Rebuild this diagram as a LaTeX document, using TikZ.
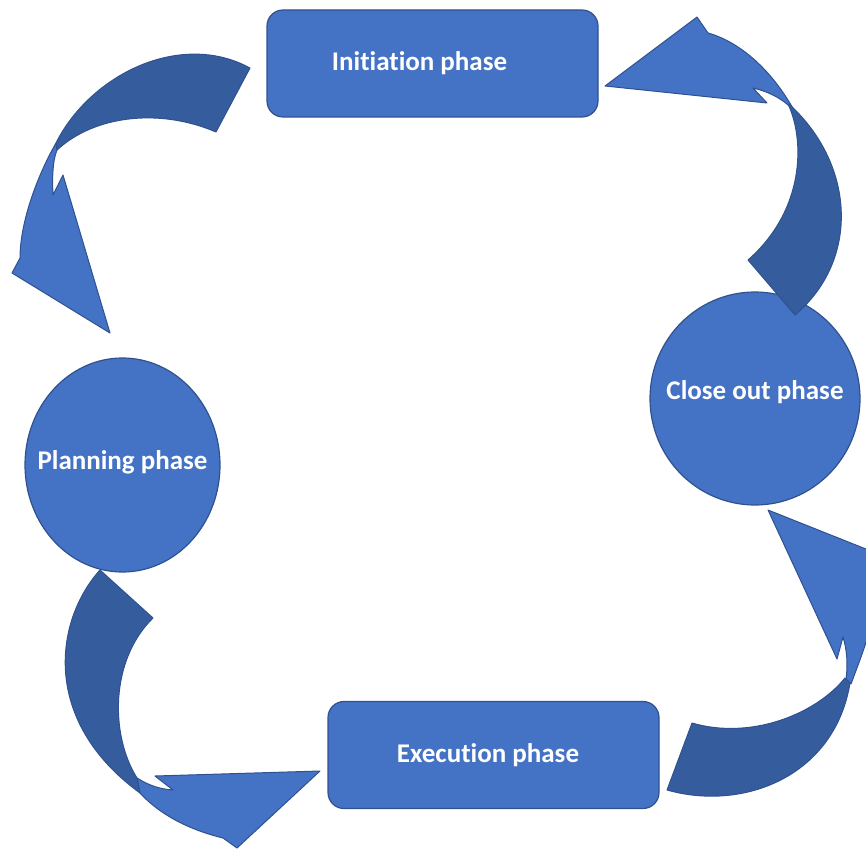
\documentclass[tikz,border=0pt]{standalone}
\usepackage{fontspec}
\setmainfont{Carlito}[Ligatures=NoCommon]
\usepackage{tikz}
\usetikzlibrary{shapes.geometric}

\definecolor{phaseblue}{HTML}{4472C4}
\definecolor{backblue}{HTML}{355D9E}
\definecolor{edgeblue}{HTML}{2F528F}

\begin{document}
\begin{tikzpicture}[x=1pt,y=-1pt]
	\tikzstyle{phasebox}=[rectangle,rounded corners=16pt,draw=edgeblue,fill=phaseblue,line width=1.2pt,minimum width=331pt,minimum height=107pt,text=white,font=\fontsize{27}{32}\selectfont\bfseries]
	\tikzstyle{phaseround}=[ellipse,draw=edgeblue,fill=phaseblue,line width=1.2pt,inner sep=0pt,text=white,font=\fontsize{27}{32}\selectfont\bfseries]
	\tikzstyle{headpart}=[fill=phaseblue,draw=edgeblue,line width=1pt,line join=round]
	\tikzstyle{bodypart}=[fill=backblue,draw=edgeblue,line width=1pt,line join=round]
	\useasboundingbox (0,0) rectangle (866,850);
	\clip (0,0) rectangle (866,850);

	% the four phases
	\node[phasebox] (init) at (432.5,63.5) {\hspace*{-26pt}Initiation phase};
	\node[phaseround,minimum width=210pt,minimum height=213pt] (close) at (755,398.5) {\raisebox{16pt}{\makebox[0pt]{Close out phase}}};
	\node[phaseround,minimum width=195pt,minimum height=214pt] (plan) at (122.5,465) {\raisebox{10pt}{\makebox[0pt]{Planning phase}}};
	\node[phasebox] (exec) at (493.5,755) {\hspace*{-11pt}Execution phase};

	% initiation -> planning
	\draw[headpart] (56,143) .. controls (35,180) and (20,225) .. (20,258) -- (12,273) -- (110,333) -- (63,175) -- (53,195) .. controls (52,175) and (53,160) .. (57,150) -- cycle;
	\draw[bodypart] (250,68) .. controls (180,30) and (90,75) .. (56,143) -- (57,150) .. controls (95,115) and (160,108) .. (216,132) -- cycle;

	% close out -> initiation
	\draw[headpart] (605,86) -- (697,17) -- (708,33) .. controls (740,42) and (772,70) .. (795,112) .. controls (785,100) and (770,92) .. (753,88) -- (767,103) -- cycle;
	\draw[bodypart] (795,315) .. controls (860,260) and (855,165) .. (790,105) -- (788,104) .. controls (805,140) and (805,210) .. (748,260) -- cycle;

	% planning -> execution
	\draw[headpart] (140,793) -- (137,778) .. controls (150,786) and (160,789) .. (173,790) -- (155,776) -- (320,771) -- (237,848) -- (223,838) .. controls (190,830) and (160,815) .. (140,793) -- cycle;
	\draw[bodypart] (100,570) .. controls (55,620) and (40,720) .. (140,793) -- (137,778) .. controls (110,735) and (110,660) .. (153,618) -- cycle;

	% execution -> close out
	\draw[headpart] (768,510) -- (837,659) -- (843,637) .. controls (847,650) and (848,665) .. (846,679) -- (851,684) .. controls (858,665) and (866,645) .. (872,622) -- (886,557) -- cycle;
	\draw[bodypart] (667,790) .. controls (745,812) and (835,775) .. (850,683) -- (845,678) .. controls (815,715) and (750,740) .. (692,723) -- cycle;
\end{tikzpicture}
\end{document}
